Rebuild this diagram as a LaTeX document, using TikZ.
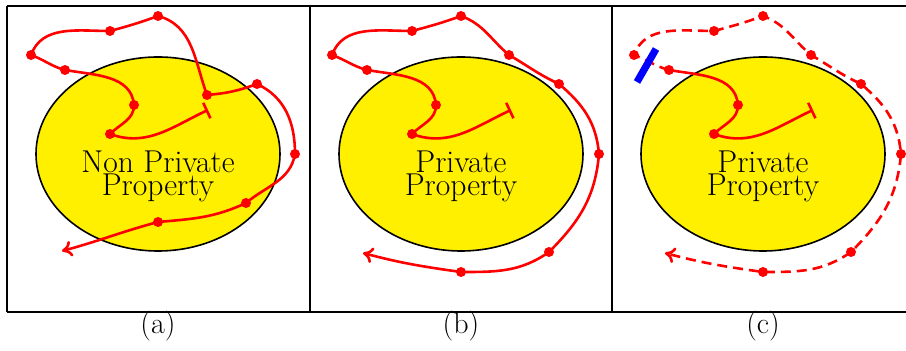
\documentclass[tikz,border=0pt]{standalone}
\usepackage{fontspec}
\usepackage{tikz}
\usetikzlibrary{arrows.meta, shapes.geometric}
\definecolor{lemon}{HTML}{FFF000}
\definecolor{trailred}{HTML}{FF0000}
\definecolor{wallblue}{HTML}{0000FF}

\begin{document}
\begin{tikzpicture}[x=0.5pt, y=0.5pt,
    frame/.style={line width=1.1pt, draw=black},
    prop/.style={ellipse, draw=black, line width=0.8pt, fill=lemon, minimum width=122pt, minimum height=97pt, inner sep=0pt},
    proptext/.style={align=center, inner sep=0pt, font=\fontsize{15.8}{11.5}\selectfont},
    caption/.style={anchor=base, inner sep=0pt, font=\fontsize{15}{18}\selectfont},
    trail/.style={line width=1.3pt, draw=trailred},
    walk/.style={trail, {Bar[width=8.5pt]}-{To[length=5pt,width=8pt]}},
    dot/.style={fill=trailred},
    wall/.style={line width=3.6pt, draw=wallblue},
  ]
  \useasboundingbox (0,0) rectangle (906,-351);

  % Frame
  \draw[frame] (7,-6) -- (906,-6);
  \draw[frame] (7,-312) -- (906,-312);
  \draw[frame] (7,-6) -- (7,-312);
  \draw[frame] (310,-6) -- (310,-312);
  \draw[frame] (612,-6) -- (612,-312);

  % Panel (a): the walk crosses the property
  \begin{scope}[shift={(158,-154)}]
    \node[prop] (ellA) at (0,0) {};
    \node[proptext] (txtA) at (0,-22) {Non Private\\Property};
    \coordinate (a1) at (50,44);
    \coordinate (a2) at (-48,20);
    \coordinate (a3) at (-24,49);
    \coordinate (a4) at (-93,84);
    \coordinate (a5) at (-127,99);
    \coordinate (a6) at (-48,123);
    \coordinate (a7) at (0,138);
    \coordinate (a8) at (49,59);
    \coordinate (a9) at (99,70);
    \coordinate (a10) at (137,0);
    \coordinate (a11) at (88,-49);
    \coordinate (a12) at (0,-68);
    \coordinate (a13) at (-96,-97);
    \draw[walk] (a1) to[out=205,in=-20] (a2) to[out=45,in=270] (a3)
      to[out=95,in=-10] (a4) to[out=165,in=-20] (a5) to[out=70,in=180] (a6)
      to[out=15,in=200] (a7) to[out=-15,in=110] (a8) to[out=5,in=200] (a9)
      to[out=-25,in=90] (a10) to[out=-100,in=40] (a11) to[out=205,in=5] (a12)
      to[out=195,in=15] (a13);
    \foreach \p in {a2,a3,a4,a5,a6,a7,a8,a9,a10,a11,a12}
      \fill[dot] (\p) circle (2.5pt);
    \node[caption] (capA) at (0,-180) {(a)};
  \end{scope}

  % Panel (b): the walk goes round the property
  \begin{scope}[shift={(461,-154)}]
    \node[prop] (ellB) at (0,0) {};
    \node[proptext] (txtB) at (0,-22) {Private\\Property};
    \coordinate (b1) at (50,44);
    \coordinate (b2) at (-49,20);
    \coordinate (b3) at (-25,49);
    \coordinate (b4) at (-94,84);
    \coordinate (b5) at (-129,99);
    \coordinate (b6) at (-49,123);
    \coordinate (b7) at (0,138);
    \coordinate (b8) at (48,99);
    \coordinate (b9) at (98,70);
    \coordinate (b10) at (138,0);
    \coordinate (b11) at (88,-98);
    \coordinate (b12) at (0,-118);
    \coordinate (b13) at (-98,-99);
    \draw[walk] (b1) to[out=205,in=-20] (b2) to[out=45,in=270] (b3)
      to[out=95,in=-10] (b4) to[out=165,in=-20] (b5) to[out=70,in=180] (b6)
      to[out=15,in=200] (b7) to[out=-20,in=140] (b8) to[out=-30,in=155] (b9)
      to[out=-40,in=95] (b10) to[out=-95,in=45] (b11) to[out=215,in=0] (b12)
      to[out=172,in=-15] (b13);
    \foreach \p in {b2,b3,b4,b5,b6,b7,b8,b9,b10,b11,b12}
      \fill[dot] (\p) circle (2.5pt);
    \node[caption] (capB) at (0,-180) {(b)};
  \end{scope}

  % Panel (c): the walk is cut by a wall
  \begin{scope}[shift={(763,-154)}]
    \node[prop] (ellC) at (0,0) {};
    \node[proptext] (txtC) at (0,-22) {Private\\Property};
    \coordinate (c1) at (50,44);
    \coordinate (c2) at (-49,20);
    \coordinate (c3) at (-25,49);
    \coordinate (c4) at (-94,84);
    \coordinate (c5) at (-129,99);
    \coordinate (c6) at (-49,123);
    \coordinate (c7) at (0,138);
    \coordinate (c8) at (48,99);
    \coordinate (c9) at (98,70);
    \coordinate (c10) at (138,0);
    \coordinate (c11) at (88,-98);
    \coordinate (c12) at (0,-118);
    \coordinate (c13) at (-98,-99);
    \coordinate (w1) at (-126,72);
    \coordinate (w2) at (-107,105);
    \draw[trail, {Bar[width=8.5pt]}-] (c1) to[out=205,in=-20] (c2) to[out=45,in=270] (c3)
      to[out=95,in=-10] (c4);
    \draw[trail, dash pattern=on 5pt off 3pt, -{To[length=5pt,width=8pt]}] (c4)
      to[out=165,in=-20] (c5) to[out=70,in=180] (c6)
      to[out=15,in=200] (c7) to[out=-20,in=140] (c8) to[out=-30,in=155] (c9)
      to[out=-40,in=95] (c10) to[out=-95,in=45] (c11) to[out=215,in=0] (c12)
      to[out=172,in=-15] (c13);
    \draw[wall] (w1) -- (w2);
    \foreach \p in {c2,c3,c4,c5,c6,c7,c8,c9,c10,c11,c12}
      \fill[dot] (\p) circle (2.5pt);
    \node[caption] (capC) at (0,-180) {(c)};
  \end{scope}
\end{tikzpicture}
\end{document}
